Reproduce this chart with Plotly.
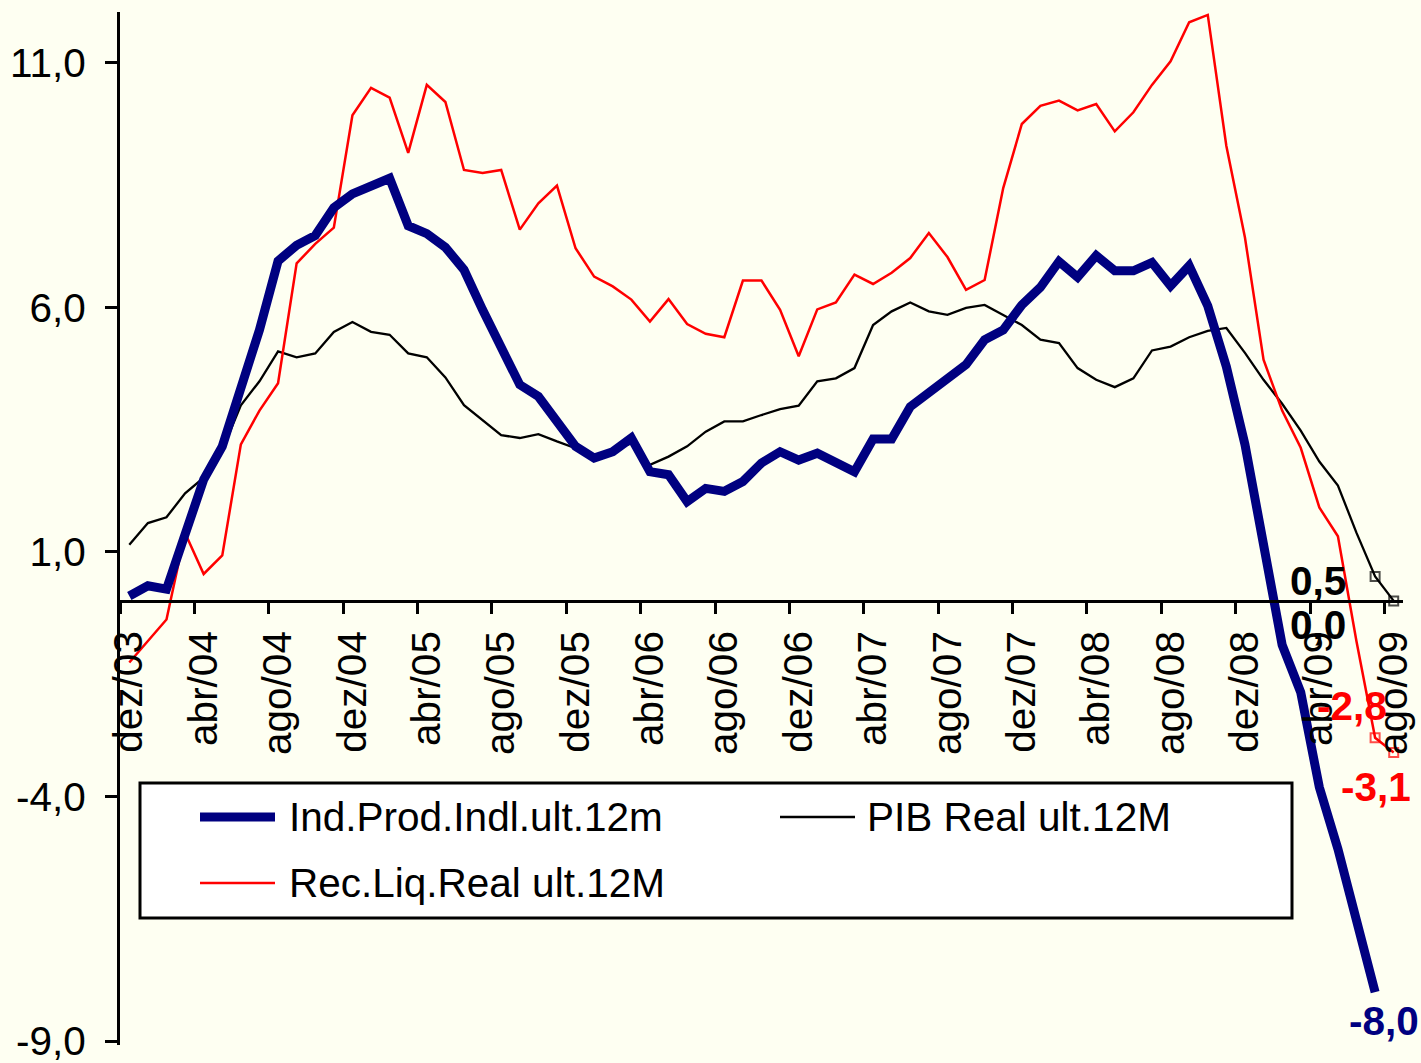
import plotly.graph_objects as go

# ---------------- data ----------------
month_abbr = ["jan", "fev", "mar", "abr", "mai", "jun", "jul", "ago", "set", "out", "nov", "dez"]
months = ["dez/03"] + [f"{m}/{y:02d}" for y in range(4, 10) for m in month_abbr][:68]

tick_labels = ["dez/03", "abr/04", "ago/04", "dez/04", "abr/05", "ago/05", "dez/05",
               "abr/06", "ago/06", "dez/06", "abr/07", "ago/07", "dez/07", "abr/08",
               "ago/08", "dez/08", "abr/09", "ago/09"]

ind_prod = [0.10, 0.31, 0.24, 1.43, 2.48, 3.16, 4.41, 5.54, 6.95, 7.27, 7.47, 8.04, 8.32, 8.50,
            8.64, 7.67, 7.51, 7.23, 6.77, 5.95, 5.20, 4.42, 4.18, 3.63, 3.16, 2.92, 3.05, 3.33,
            2.64, 2.58, 2.03, 2.30, 2.24, 2.44, 2.82, 3.05, 2.88, 3.02, 2.82, 2.64, 3.31, 3.31,
            3.97, 4.25, 4.53, 4.83, 5.34, 5.54, 6.05, 6.41, 6.94, 6.62, 7.06, 6.75, 6.75, 6.92,
            6.44, 6.85, 6.03, 4.79, 3.20, 1.19, -0.90, -1.87, -3.81, -5.07, -6.50, -8.0, None]

pib_real = [1.15, 1.59, 1.71, 2.20, 2.52, 3.08, 4.00, 4.49, 5.10, 4.98, 5.06, 5.50, 5.70, 5.50,
            5.44, 5.06, 4.98, 4.57, 4.00, 3.69, 3.39, 3.33, 3.41, 3.26, 3.12, 2.95, 3.09, 3.22,
            2.78, 2.95, 3.16, 3.46, 3.67, 3.67, 3.80, 3.92, 3.99, 4.49, 4.55, 4.76, 5.64, 5.92,
            6.10, 5.92, 5.85, 5.99, 6.05, 5.85, 5.64, 5.34, 5.27, 4.76, 4.52, 4.37, 4.55, 5.12,
            5.20, 5.39, 5.52, 5.58, 5.07, 4.52, 4.03, 3.48, 2.85, 2.36, 1.39, 0.5, 0.0]

rec_liq = [-1.26, -0.82, -0.38, 1.39, 0.55, 0.93, 3.20, 3.89, 4.45, 6.90, 7.30, 7.63, 9.93, 10.49,
           10.29, 9.16, 10.55, 10.20, 8.81, 8.75, 8.81, 7.59, 8.13, 8.49, 7.21, 6.63, 6.43, 6.16,
           5.71, 6.17, 5.66, 5.46, 5.39, 6.55, 6.55, 5.95, 5.00, 5.96, 6.10, 6.67, 6.48, 6.71,
           7.01, 7.52, 7.03, 6.36, 6.56, 8.44, 9.75, 10.12, 10.23, 10.03, 10.16, 9.60, 9.99, 10.55,
           11.03, 11.83, 11.98, 9.30, 7.43, 4.93, 3.89, 3.13, 1.91, 1.32, -0.83, -2.8, -3.1]

y_tick_vals = [11, 6, 1, -4, -9]
y_tick_text = ["11,0", "6,0", "1,0", "-4,0", "-9,0"]

names = ["Ind.Prod.Indl.ult.12m", "PIB Real ult.12M", "Rec.Liq.Real ult.12M"]

# ---------------- layout geometry ----------------
W, H = 1421, 1063
L, R, T, B = 120, 18, 12, 18
PW, PH = W - L - R, H - T - B
YMIN, YMAX = -9.08, 12.04
FONT = "Liberation Sans, Arial, sans-serif"
FS = 40.5
BG = "#FEFFF2"

idx = list(range(len(months)))
n = len(idx)


def px(x):
    return (x - L) / PW


def py(y):
    return (H - B - y) / PH


fig = go.Figure()

sz_end = [0] * (n - 2) + [9, 9]
# PIB (black)
fig.add_trace(go.Scatter(x=idx, y=pib_real, mode="lines+markers", name=names[1],
                         line=dict(color="black", width=2.3),
                         marker=dict(symbol="square-open", size=sz_end, color="black",
                                     line=dict(width=2, color="black")),
                         showlegend=False, hoverinfo="skip"))
# Receita (red)
fig.add_trace(go.Scatter(x=idx, y=rec_liq, mode="lines+markers", name=names[2],
                         line=dict(color="#FF0000", width=2.5),
                         marker=dict(symbol="square-open", size=sz_end, color="#FF0000",
                                     line=dict(width=2, color="#FF0000")),
                         showlegend=False, hoverinfo="skip"))
# Ind prod (navy)
fig.add_trace(go.Scatter(x=idx, y=ind_prod, mode="lines", name=names[0],
                         line=dict(color="#000080", width=9),
                         showlegend=False, hoverinfo="skip"))

# invisible trace so the boundary-tick axis x2 is live
fig.add_trace(go.Scatter(x=[-0.5], y=[None], xaxis="x2", yaxis="y", showlegend=False,
                         hoverinfo="skip", mode="lines"))

x_pos = (0 - YMIN) / (YMAX - YMIN)

fig.update_layout(
    width=W, height=H,
    margin=dict(l=L, r=R, t=T, b=B, pad=0, autoexpand=False),
    paper_bgcolor=BG, plot_bgcolor=BG,
    font=dict(family=FONT, size=FS, color="black"),
    showlegend=False,
    xaxis=dict(range=[-0.5, 68.5], tickmode="array",
               tickvals=[i for i in idx if i % 4 == 0], ticktext=tick_labels,
               tickangle=-90, showgrid=False, zeroline=False, automargin=False,
               showline=True, linecolor="black", linewidth=3,
               ticks="outside", ticklen=12, tickcolor="rgba(0,0,0,0)",
               ticklabelstandoff=0, ticklabeloverflow="allow",
               anchor="free", position=x_pos,
               tickfont=dict(family=FONT, size=FS, color="black")),
    xaxis2=dict(range=[-0.5, 68.5], overlaying="x", tickmode="array",
                tickvals=[i - 0.5 for i in idx if i % 4 == 0], automargin=False,
                showticklabels=False, showgrid=False, zeroline=False, showline=False,
                ticks="outside", ticklen=12, tickwidth=3, tickcolor="black",
                anchor="free", position=x_pos, side="bottom"),
    yaxis=dict(range=[YMIN, YMAX], tickmode="array", tickvals=y_tick_vals,
               ticktext=y_tick_text, showgrid=False, zeroline=False, automargin=False,
               showline=True, linecolor="black", linewidth=3,
               ticks="outside", ticklen=12, tickwidth=3, tickcolor="black",
               ticklabelstandoff=11, ticklabeloverflow="allow",
               tickfont=dict(family=FONT, size=FS, color="black")),
)

# data labels (offsets in pixels from the data points)
lab = [
    (67, pib_real[67], "0,5", "black", -57, -5),
    (68, pib_real[68], "0,0", "black", -76, -24),
    (67, rec_liq[67], "-2,8", "#FF0000", -23, 32),
    (68, rec_liq[68], "-3,1", "#FF0000", -18, -34),
    (67, ind_prod[67], "-8,0", "#000080", 9, -29),
]
for x, y, t, c, dx, dy in lab:
    fig.add_annotation(x=x, y=y, xref="x", yref="y", text=f"<b>{t}</b>", showarrow=False,
                       xshift=dx, yshift=dy, xanchor="center", yanchor="middle",
                       font=dict(family=FONT, size=FS, color=c))

# manual legend
fig.add_shape(type="rect", xref="paper", yref="paper", x0=px(140), x1=px(1292),
              y0=py(918), y1=py(783), fillcolor="white", line=dict(color="black", width=3))
leg = [
    (200, 275, 817, "#000080", 9, 287, names[0]),
    (780, 855, 817, "black", 2.5, 865, names[1]),
    (200, 275, 883, "#FF0000", 2.5, 287, names[2]),
]
for x0, x1, yy, c, w, tx, t in leg:
    fig.add_shape(type="line", xref="paper", yref="paper", x0=px(x0), x1=px(x1),
                  y0=py(yy), y1=py(yy), line=dict(color=c, width=w))
    fig.add_annotation(x=px(tx), y=py(yy), xref="paper", yref="paper", text=t,
                       showarrow=False, xanchor="left", yanchor="middle",
                       font=dict(family=FONT, size=FS, color="black"))

fig.write_html(
    "out.html",
    config={"displayModeBar": False},
    post_script="document.body.style.margin='0';document.body.style.padding='0';"
                "document.body.style.overflow='hidden';"
                "document.documentElement.style.background='" + BG + "';",
)
